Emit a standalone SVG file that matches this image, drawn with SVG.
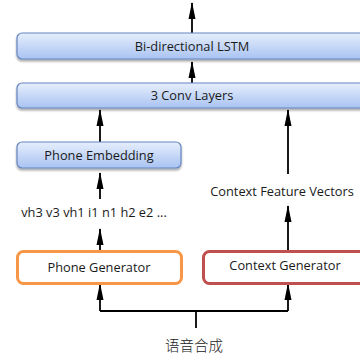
<svg xmlns="http://www.w3.org/2000/svg" width="360" height="355" viewBox="0 0 360 355">
  <style>
    .lbl { font-family: "Open Sans", "Liberation Sans", sans-serif; font-size: 12.8px; fill: #1a1a1a; text-anchor: middle; }
    .cjk { font-family: "Noto Sans CJK SC", sans-serif; font-size: 14.5px; fill: #222; text-anchor: middle; font-weight: 300; }
    .blue { fill: url(#blueGrad); stroke: #6585c0; stroke-width: 1.2; filter: url(#shadow); }
    .wire { fill: none; stroke: #000; stroke-width: 1.8; }
  </style>
  <defs>
    <linearGradient id="blueGrad" x1="0" y1="0" x2="0" y2="1">
      <stop offset="0" stop-color="#e6eefc"/>
      <stop offset="1" stop-color="#a9c3f2"/>
    </linearGradient>
    <filter id="shadow" x="-10%" y="-20%" width="120%" height="160%">
      <feGaussianBlur in="SourceAlpha" stdDeviation="1"/>
      <feOffset dx="0" dy="1.5" result="b"/>
      <feComponentTransfer><feFuncA type="linear" slope="0.35"/></feComponentTransfer>
      <feMerge><feMergeNode/><feMergeNode in="SourceGraphic"/></feMerge>
    </filter>
    <!-- narrow, elongated arrowhead -->
    <marker id="arrow" viewBox="0 0 17 8" refX="16" refY="4" markerWidth="17" markerHeight="8" markerUnits="userSpaceOnUse" orient="auto">
      <path d="M0,0.5 L17,4 L0,7.5 Z" fill="#000"/>
    </marker>
  </defs>

  <g id="connectors">
    <line class="wire" x1="192" y1="33" x2="192" y2="3" marker-end="url(#arrow)"/>
    <line class="wire" x1="192" y1="83" x2="192" y2="62" marker-end="url(#arrow)"/>
    <line class="wire" x1="100" y1="142" x2="100" y2="110" marker-end="url(#arrow)"/>
    <line class="wire" x1="288" y1="174" x2="288" y2="110" marker-end="url(#arrow)"/>
    <line class="wire" x1="100" y1="199" x2="100" y2="173" marker-end="url(#arrow)"/>
    <line class="wire" x1="100" y1="251" x2="100" y2="229" marker-end="url(#arrow)"/>
    <line class="wire" x1="288" y1="251" x2="288" y2="206" marker-end="url(#arrow)"/>
    <polyline class="wire" points="100,311 288,311"/>
    <line class="wire" x1="100" y1="311" x2="100" y2="284" marker-end="url(#arrow)"/>
    <line class="wire" x1="288" y1="311" x2="288" y2="284" marker-end="url(#arrow)"/>
    <line class="wire" x1="196" y1="311" x2="196" y2="328" stroke-width="2"/>
  </g>

  <g id="lstm">
    <rect class="blue" x="17" y="33" width="370" height="26" rx="5"/>
    <text class="lbl" x="192" y="50.5">Bi-directional LSTM</text>
  </g>

  <g id="conv">
    <rect class="blue" x="17" y="83" width="370" height="25" rx="5"/>
    <text class="lbl" x="192" y="100">3 Conv Layers</text>
  </g>

  <g id="phone-embedding">
    <rect class="blue" x="17" y="142" width="164" height="26" rx="5"/>
    <text class="lbl" x="99" y="159.5">Phone Embedding</text>
  </g>

  <g id="context-features">
    <text class="lbl" x="282" y="196">Context Feature Vectors</text>
  </g>

  <g id="phone-seq">
    <text class="lbl" x="94" y="217">vh3 v3 vh1 i1 n1 h2 e2 ...</text>
  </g>

  <g id="phone-generator">
    <rect x="17.5" y="251.5" width="164" height="32" rx="6" fill="#fff" stroke="#f79646" stroke-width="3"/>
    <text class="lbl" x="99" y="271.5">Phone Generator</text>
  </g>

  <g id="context-generator">
    <rect x="203.5" y="251.5" width="190" height="32" rx="6" fill="#fff" stroke="#c0504d" stroke-width="3"/>
    <text class="lbl" x="285" y="270">Context Generator</text>
  </g>

  <g id="source">
    <text class="cjk" x="194" y="351">语音合成</text>
  </g>
</svg>
